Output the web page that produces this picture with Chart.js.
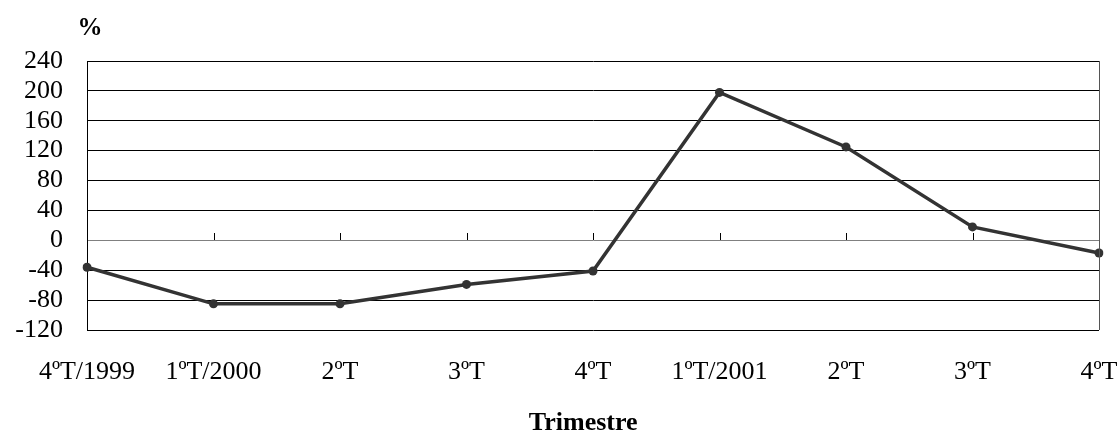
<!DOCTYPE html>
<html>
<head>
<meta charset="utf-8">
<script src="https://cdn.jsdelivr.net/npm/chart.js@4/dist/chart.umd.min.js"></script>
<style>
  html, body { margin: 0; padding: 0; background: #fff; }
  #wrap { width: 1120px; height: 436px; position: relative; }
</style>
</head>
<body>
<div id="wrap"><canvas id="myChart"></canvas></div>
<script>
const quarters = ["4ºT/1999", "1ºT/2000", "2ºT", "3ºT", "4ºT", "1ºT/2001", "2ºT", "3ºT", "4ºT"];
const growth = [-36, -85, -85, -59, -41, 198, 125, 18, -17];
const yMin = -120;
const yMax = 240;
const yStep = 40;

const serif = "'Liberation Serif', 'Times New Roman', serif";

// frame, small category ticks on the zero line and the "%" label
const extras = {
  id: "extras",
  afterDatasetsDraw(chart) {
    const { ctx, chartArea, scales } = chart;
    const y0 = Math.round(scales.y.getPixelForValue(0));
    ctx.save();
    ctx.strokeStyle = "#000";
    ctx.lineWidth = 1;
    scales.x.ticks.forEach((t, i) => {
      const x = Math.round(scales.x.getPixelForTick(i)) + 0.5;
      ctx.beginPath();
      ctx.moveTo(x, y0 - 7);
      ctx.lineTo(x, y0);
      ctx.stroke();
    });
    ctx.strokeStyle = "#555";
    ctx.beginPath();
    ctx.moveTo(Math.round(chartArea.right) + 0.5, chartArea.top);
    ctx.lineTo(Math.round(chartArea.right) + 0.5, chartArea.bottom);
    ctx.stroke();
    ctx.fillStyle = "#000";
    ctx.font = "bold 25px " + serif;
    ctx.textAlign = "center";
    ctx.textBaseline = "middle";
    ctx.fillText("%", chartArea.left + 3, 29);
    ctx.restore();
  },
};

new Chart(document.getElementById("myChart"), {
  type: "line",
  data: {
    labels: quarters,
    datasets: [
      {
        data: growth,
        borderColor: "#333",
        backgroundColor: "#333",
        borderWidth: 3.5,
        pointRadius: 4.5,
        pointBackgroundColor: "#333",
        pointBorderWidth: 0,
        tension: 0,
      },
    ],
  },
  options: {
    responsive: true,
    maintainAspectRatio: false,
    animation: false,
    layout: { padding: { top: 61, right: 0, bottom: 0, left: 0 } },
    plugins: { legend: { display: false }, tooltip: { enabled: false } },
    scales: {
      x: {
        offset: false,
        grid: { display: false, drawTicks: false },
        border: { display: false },
        ticks: {
          color: "#000",
          font: { family: serif, size: 26 },
          padding: 27,
          maxRotation: 0,
          autoSkip: false,
        },
        title: {
          display: true,
          text: "Trimestre   ",
          color: "#000",
          font: { family: serif, size: 26, weight: "bold", lineHeight: 1 },
          padding: { top: 0, bottom: 0 },
        },
        afterFit: (scale) => {
          scale.height = 106;
          scale.paddingLeft = 0;
          scale.paddingRight = 21;
        },
      },
      y: {
        min: yMin,
        max: yMax,
        grid: {
          drawTicks: false,
          color: (c) => (c.tick && c.tick.value === 0 ? "#808080" : "#000"),
          lineWidth: 1,
        },
        border: { display: true, color: "#000", width: 1 },
        ticks: {
          stepSize: yStep,
          autoSkip: false,
          color: "#000",
          font: { family: serif, size: 26 },
          padding: 24,
        },
        afterFit: (scale) => {
          scale.width = 87;
        },
      },
    },
  },
  plugins: [extras],
});
</script>
</body>
</html>
